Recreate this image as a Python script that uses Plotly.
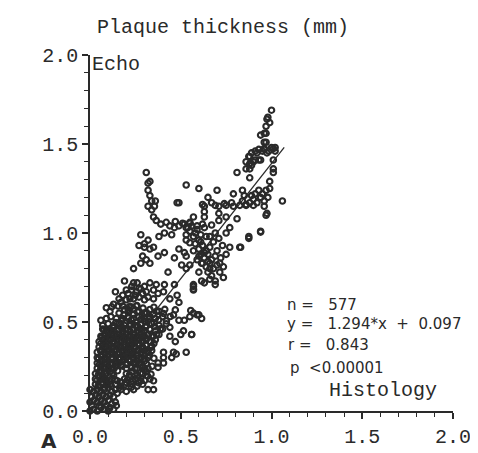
import plotly.graph_objects as go

# ---- data (histology x, echo y), mm ----
pts_low = [
    (0.00,0.00),(0.02,0.01),(0.04,0.00),(0.06,0.02),(0.08,0.01),(0.10,0.00),(0.13,0.01),(0.145,0.03),
    (0.01,0.03),(0.05,0.03),(0.09,0.03),(0.11,0.02),
    (0.00,0.05),(0.02,0.06),(0.04,0.05),(0.06,0.06),(0.08,0.05),(0.10,0.06),(0.12,0.04),(0.14,0.05),
    (0.01,0.08),(0.03,0.09),(0.05,0.08),(0.07,0.09),(0.09,0.08),(0.11,0.09),(0.13,0.08),(0.15,0.10),
    (0.02,0.11),(0.00,0.12),
    (0.04,0.12),(0.06,0.11),(0.08,0.12),(0.10,0.13),(0.12,0.11),(0.14,0.12),(0.17,0.12),(0.20,0.11),
    (0.24,0.12),(0.32,0.12),(0.35,0.12),
    (0.03,0.15),(0.05,0.14),(0.07,0.15),(0.09,0.16),(0.11,0.15),(0.14,0.15),(0.17,0.14),(0.20,0.16),
    (0.23,0.15),(0.26,0.14),(0.29,0.15),
    (0.03,0.18),(0.05,0.19),(0.07,0.18),(0.09,0.17),(0.12,0.18),(0.15,0.17),(0.19,0.18),(0.22,0.19),
    (0.25,0.18),(0.28,0.17),(0.33,0.18),(0.35,0.17),
    (0.03,0.21),(0.05,0.22),(0.07,0.20),(0.09,0.21),(0.11,0.22),(0.13,0.20),(0.20,0.21),(0.23,0.22),
    (0.26,0.20),(0.29,0.21),(0.31,0.22),
    (0.04,0.24),(0.06,0.25),(0.08,0.24),(0.10,0.25),(0.12,0.24),(0.14,0.25),(0.17,0.26),(0.20,0.24),
    (0.23,0.25),(0.26,0.24),(0.29,0.25),(0.32,0.24),(0.375,0.245),
    (0.04,0.27),(0.06,0.28),(0.08,0.27),(0.10,0.28),(0.12,0.27),(0.14,0.28),(0.16,0.27),(0.18,0.28),
    (0.20,0.27),(0.22,0.28),(0.24,0.27),(0.26,0.28),(0.28,0.27),(0.30,0.28),(0.375,0.27),(0.405,0.27),
    (0.04,0.30),(0.06,0.31),(0.08,0.30),(0.10,0.31),(0.12,0.30),(0.14,0.31),(0.16,0.30),(0.18,0.31),
    (0.20,0.30),(0.22,0.31),(0.24,0.30),(0.26,0.31),(0.28,0.30),(0.30,0.31),(0.32,0.30),(0.405,0.30),
    (0.45,0.30),(0.475,0.32),
    (0.04,0.33),(0.06,0.34),(0.08,0.33),(0.10,0.34),(0.12,0.33),(0.14,0.34),(0.16,0.33),(0.18,0.34),
    (0.20,0.33),(0.22,0.34),(0.24,0.33),(0.26,0.34),(0.28,0.33),(0.30,0.34),(0.32,0.33),(0.34,0.34),
    (0.405,0.33),(0.46,0.33),(0.53,0.33),
    (0.05,0.36),(0.07,0.37),(0.09,0.36),(0.11,0.37),(0.13,0.36),(0.15,0.37),(0.17,0.36),(0.19,0.37),
    (0.21,0.36),(0.23,0.37),(0.25,0.36),(0.27,0.37),(0.29,0.36),(0.31,0.37),(0.34,0.365),
    (0.05,0.39),(0.07,0.40),(0.09,0.39),(0.11,0.40),(0.13,0.39),(0.15,0.40),(0.17,0.39),(0.19,0.40),
    (0.21,0.39),(0.23,0.40),(0.25,0.39),(0.27,0.40),(0.29,0.39),(0.31,0.40),(0.33,0.39),(0.36,0.40),
    (0.47,0.39),
    (0.06,0.42),(0.08,0.43),(0.10,0.42),(0.12,0.43),(0.14,0.42),(0.16,0.43),(0.18,0.42),(0.20,0.43),
    (0.22,0.42),(0.24,0.43),(0.26,0.42),(0.28,0.43),(0.30,0.42),(0.32,0.43),(0.35,0.42),(0.38,0.43),
    (0.44,0.42),(0.50,0.43),(0.56,0.43),
    (0.07,0.46),(0.09,0.45),(0.11,0.46),(0.13,0.45),(0.16,0.46),(0.18,0.45),(0.20,0.46),(0.22,0.45),
    (0.24,0.46),(0.26,0.45),(0.28,0.46),(0.30,0.45),(0.33,0.46),(0.36,0.45),(0.40,0.46),(0.44,0.47),
    (0.515,0.45),
    (0.07,0.48),(0.10,0.49),(0.13,0.48),(0.16,0.49),(0.19,0.48),(0.22,0.49),(0.25,0.48),(0.28,0.49),
    (0.31,0.48),(0.34,0.49),(0.38,0.48),(0.42,0.49),(0.49,0.51),(0.52,0.51),
    (0.06,0.51),(0.09,0.52),(0.115,0.53),(0.145,0.52),(0.18,0.52),(0.21,0.53),(0.24,0.52),(0.27,0.53),
    (0.30,0.52),(0.33,0.53),(0.36,0.52),(0.40,0.53),(0.46,0.54),(0.55,0.53),(0.59,0.54),(0.615,0.52),
    (0.16,0.55),(0.21,0.57),(0.24,0.575),(0.27,0.56),(0.30,0.55),(0.33,0.57),(0.38,0.56),
    (0.555,0.565),(0.57,0.55),(0.60,0.54),(0.56,0.43),
]

# extra points inside the solid dark lower-left mass
pts_low_dense = [
    (0.045,0.142),(0.072,0.128),(0.093,0.147),(0.118,0.139),(0.163,0.131),(0.192,0.148),(0.228,0.133),
    (0.268,0.158),
    (0.038,0.172),(0.064,0.161),(0.084,0.183),(0.107,0.168),(0.138,0.176),(0.171,0.163),(0.207,0.177),
    (0.236,0.168),(0.262,0.186),(0.301,0.171),(0.318,0.196),
    (0.046,0.203),(0.058,0.231),(0.081,0.208),(0.098,0.234),(0.124,0.213),(0.152,0.226),(0.218,0.204),
    (0.247,0.238),(0.278,0.214),(0.303,0.233),(0.336,0.207),
    (0.052,0.262),(0.073,0.246),(0.091,0.271),(0.113,0.259),(0.131,0.236),(0.149,0.268),(0.178,0.252),
    (0.203,0.262),(0.229,0.243),(0.251,0.271),(0.276,0.257),(0.311,0.266),(0.342,0.251),
    (0.047,0.292),(0.068,0.306),(0.089,0.287),(0.109,0.318),(0.127,0.296),(0.151,0.322),(0.168,0.293),
    (0.188,0.309),(0.213,0.288),(0.234,0.317),(0.258,0.296),(0.282,0.321),(0.298,0.293),(0.327,0.312),
    (0.352,0.296),
    (0.058,0.338),(0.079,0.352),(0.097,0.331),(0.121,0.356),(0.139,0.337),(0.162,0.354),(0.183,0.329),
    (0.204,0.348),(0.226,0.331),(0.246,0.357),(0.271,0.339),(0.293,0.352),(0.318,0.336),(0.338,0.358),
    (0.061,0.381),(0.083,0.368),(0.104,0.392),(0.128,0.376),(0.146,0.398),(0.169,0.371),(0.193,0.389),
    (0.217,0.367),(0.238,0.394),(0.263,0.378),(0.287,0.396),(0.308,0.372),(0.329,0.391),(0.352,0.379),
    (0.066,0.413),(0.089,0.428),(0.111,0.409),(0.133,0.431),(0.157,0.414),(0.179,0.437),(0.198,0.411),
    (0.221,0.429),(0.243,0.414),(0.268,0.438),(0.289,0.412),(0.313,0.427),(0.341,0.416),(0.367,0.431),
    (0.078,0.458),(0.101,0.447),(0.126,0.468),(0.148,0.452),(0.173,0.472),(0.194,0.455),(0.218,0.478),
    (0.239,0.459),(0.263,0.476),(0.286,0.453),(0.307,0.471),(0.331,0.458),(0.356,0.474),(0.388,0.462),
    (0.142,0.497),(0.171,0.508),(0.196,0.493),(0.228,0.511),(0.252,0.499),(0.281,0.514),(0.303,0.502),
    (0.326,0.519),(0.352,0.497),(0.378,0.512),(0.421,0.506),
    (0.188,0.538),(0.213,0.552),(0.236,0.541),(0.262,0.557),(0.288,0.536),(0.313,0.551),(0.347,0.542),
    (0.368,0.561),(0.405,0.548),(0.442,0.531),
    (0.226,0.586),(0.259,0.592),(0.292,0.578),(0.352,0.583),(0.412,0.571),(0.47,0.568),
]

pts_mid = [
    (0.11,0.56),(0.13,0.60),(0.09,0.58),(0.17,0.61),(0.19,0.57),
    (0.12,0.585),(0.155,0.59),(0.18,0.59),(0.215,0.585),(0.255,0.59),
    (0.16,0.63),(0.20,0.625),(0.24,0.63),(0.27,0.64),(0.30,0.625),(0.35,0.63),(0.44,0.63),
    (0.48,0.65),(0.49,0.61),
    (0.14,0.67),(0.20,0.68),(0.23,0.68),(0.255,0.67),(0.28,0.685),(0.31,0.67),(0.35,0.68),
    (0.375,0.66),(0.405,0.67),
    (0.21,0.66),(0.23,0.70),(0.25,0.65),(0.27,0.69),(0.29,0.66),(0.22,0.63),(0.26,0.72),(0.30,0.70),
    (0.18,0.65),(0.32,0.64),
    (0.19,0.73),(0.24,0.72),(0.33,0.72),(0.365,0.71),(0.41,0.71),(0.465,0.71),
    (0.24,0.80),(0.43,0.78),
    (0.28,0.83),(0.33,0.83),(0.31,0.85),(0.29,0.87),(0.375,0.87),(0.41,0.89),
    (0.30,0.92),(0.33,0.91),(0.35,0.92),(0.27,0.93),(0.30,0.94),(0.32,0.96),(0.28,0.99),
    (0.38,0.98),(0.41,1.00),(0.44,1.04),(0.465,1.03),(0.49,1.04),(0.51,1.055),(0.53,1.03),
    (0.45,0.99),(0.49,0.91),(0.52,0.89),(0.465,0.86),(0.505,0.82),(0.53,0.80),
    (0.39,1.05),(0.42,1.06),(0.47,1.065),(0.55,1.06),
    (0.32,1.15),(0.34,1.13),(0.355,1.15),(0.35,1.09),(0.365,1.07),(0.49,1.17),
    (0.57,0.70),(0.57,0.685),
    (0.63,1.15),(0.63,1.12),(0.63,1.09),(0.69,1.155),(0.71,1.15),(0.75,1.155),(0.79,1.15),
    (0.825,1.155),(0.86,1.155),(0.90,1.155),(0.96,1.15),(0.975,1.11),(0.71,1.11),(0.71,1.07),
    (0.75,1.09),(0.81,1.08),(0.57,1.09),(0.55,1.055),(0.59,1.04),
    (0.53,0.99),(0.55,1.01),(0.57,0.98),(0.59,1.02),(0.61,0.99),(0.63,1.03),(0.56,1.04),
    (0.60,0.96),(0.62,1.05),(0.64,0.98),(0.58,1.00),(0.54,1.03),(0.52,1.05),
    (0.67,1.045),(0.69,1.00),(0.66,0.98),(0.71,0.97),(0.75,1.00),(0.77,1.03),(0.73,0.93),
    (0.77,0.92),(0.75,0.88),(0.825,0.92),(0.875,0.98),(0.94,1.01),
    (0.53,0.96),(0.55,0.945),(0.53,0.87),(0.55,0.82),(0.615,0.83),(0.60,0.78),(0.615,0.73),
    (0.63,0.72),(0.66,0.74),(0.69,0.73),(0.715,0.78),(0.735,0.75),(0.69,0.71),(0.57,0.71),
    (0.57,0.68),(0.735,0.81),(0.715,0.83),
    (0.58,0.94),(0.60,0.91),(0.62,0.93),(0.64,0.90),(0.66,0.92),(0.61,0.88),(0.63,0.86),
    (0.65,0.88),(0.67,0.85),(0.69,0.87),(0.62,0.83),(0.64,0.81),(0.66,0.83),(0.68,0.80),
    (0.70,0.82),(0.65,0.78),(0.67,0.76),(0.59,0.85),(0.57,0.90),(0.68,0.95),(0.70,0.90),
    (0.72,0.86),(0.61,0.95),(0.63,0.89),(0.65,0.84),(0.60,0.87),(0.66,0.80),
    (0.97,1.10),(0.94,1.005),(0.875,0.97),(0.83,0.92),(1.06,1.18),
]

pts_high = [
    (0.31,1.34),(0.32,1.28),(0.33,1.29),(0.32,1.24),(0.33,1.21),(0.34,1.18),(0.36,1.18),
    (0.48,1.17),(0.53,1.27),(0.60,1.25),(0.65,1.20),(0.70,1.24),(0.79,1.22),(0.81,1.34),
    (0.84,1.24),(0.88,1.31),(0.99,1.29),(0.99,1.25),
    (0.86,1.40),(0.88,1.43),(0.89,1.38),(0.91,1.41),(0.92,1.45),(0.94,1.41),(0.96,1.47),
    (0.975,1.45),(1.00,1.48),(1.02,1.48),
    (0.97,1.51),(0.97,1.56),(0.97,1.60),(0.975,1.64),(0.98,1.65),(1.00,1.69),(0.99,1.62),
    (0.94,1.55),(0.96,1.56),(0.96,1.51),
    (0.875,1.43),(0.89,1.45),(0.91,1.46),(0.93,1.47),(0.95,1.46),(0.96,1.475),(0.985,1.46),
    (1.01,1.475),(1.02,1.46),(0.88,1.39),(0.90,1.40),(0.93,1.41),(0.86,1.36),(0.88,1.36),
    (1.01,1.41),(1.01,1.36),(1.01,1.34),
    (0.88,1.17),(0.90,1.19),(0.92,1.17),(0.94,1.20),(0.96,1.18),(0.91,1.22),(0.93,1.24),
    (0.95,1.22),(0.97,1.24),(0.89,1.21),(0.86,1.16),(0.84,1.18),(0.98,1.20),(0.85,1.21),
    (0.62,1.16),(0.67,1.17),(0.74,1.165),(0.78,1.17),
]

slope = 1.294
intercept = 0.097
fit_x = [0.0, 1.07]

x_ticks = [0.0, 0.5, 1.0, 1.5, 2.0]
tick_text = ["0.0", "0.5", "1.0", "1.5", "2.0"]

all_pts = pts_low + pts_low_dense + pts_mid + pts_high
xs = [p[0] for p in all_pts]
ys = [p[1] for p in all_pts]
fit_y = [slope * v + intercept for v in fit_x]

INK = "#2a2a2a"
MONO = "Liberation Mono"
SANS = "DejaVu Sans"

fig = go.Figure()
fig.add_trace(go.Scatter(
    x=xs, y=ys, mode="markers", cliponaxis=False,
    marker=dict(symbol="circle-open", size=5.5, color=INK, line=dict(width=2.1, color=INK)),
    showlegend=False, hoverinfo="skip"))
fig.add_trace(go.Scatter(
    x=fit_x, y=fit_y, mode="lines", line=dict(color=INK, width=1.3),
    showlegend=False, hoverinfo="skip"))

axis_common = dict(
    range=[0, 2], tickvals=x_ticks, ticktext=tick_text, showgrid=False, zeroline=False,
    showline=True, linecolor=INK, linewidth=1.5, ticks="outside", ticklen=6, tickwidth=1.5,
    tickcolor=INK, tickfont=dict(family=MONO, size=20, color=INK),
    minor=dict(ticks="outside", dtick=0.1, ticklen=4, tickwidth=1.2, tickcolor=INK),
)
fig.update_xaxes(**axis_common)
fig.update_yaxes(**axis_common)

def ann(text, x, y, family, size, xanchor="left"):
    fig.add_annotation(text=text, x=x, y=y, xref="paper", yref="paper", showarrow=False,
                       xanchor=xanchor, yanchor="middle",
                       font=dict(family=family, size=size, color=INK))

nb = "\u00a0"
ann("Plaque" + nb + "thickness" + nb + "(mm)", 0.014, 1.078, MONO, 20)
ann("Echo", 0.0, 0.972, MONO, 20)
ann("Histology", 0.652, 0.058, MONO, 20)
ann("n" + nb + "=" + nb * 3 + "577", 0.536, 0.298, SANS, 15)
ann("y" + nb + "=" + nb * 3 + "1.294*x" + nb * 2 + "+" + nb * 2 + "0.097", 0.536, 0.243, SANS, 15)
ann("r" + nb + "=" + nb * 3 + "0.843", 0.541, 0.185, SANS, 15)
ann("p" + nb * 2 + "&lt;0.00001", 0.546, 0.122, SANS, 15)
ann("<b>A</b>", -0.14, -0.085, SANS, 20)

fig.update_layout(
    width=478, height=453,
    margin=dict(l=82, r=33, t=47, b=44),
    paper_bgcolor="white", plot_bgcolor="white",
)
fig.write_html("out.html")
